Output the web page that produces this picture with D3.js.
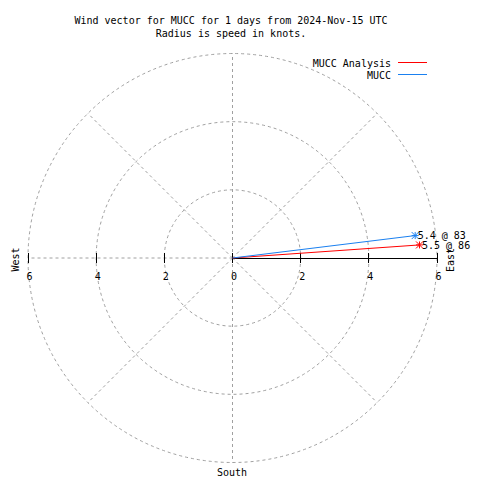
<!DOCTYPE html>
<html><head><meta charset="utf-8">
<script src="https://cdn.jsdelivr.net/npm/d3@7/dist/d3.min.js"></script>
<style>
html,body{margin:0;padding:0;background:#fff;}
text{font-family:"DejaVu Sans Mono",monospace;font-size:10px;fill:#000;}
</style></head>
<body>
<svg id="chart" width="480" height="480"></svg>
<script>
const titleLines = ["Wind vector for MUCC for 1 days from 2024-Nov-15 UTC", "Radius is speed in knots."];
const seriesNames = ["MUCC Analysis", "MUCC"];
const speeds = [5.5, 5.4];       // knots
const directions = [86, 83];     // degrees clockwise from north
const seriesColors = ["#ff0000", "#1a80f0"];
const radiusTicks = [0, 2, 4, 6];
const ringValues = [2, 4, 6];
const spokeAngles = [0, 45, 90, 135, 180, 225, 270, 315];

const svg = d3.select("#chart");
const cx = 232.5, cy = 258;
const r = d3.scaleLinear().domain([0, 6]).range([0, 204.5]);
const g = svg.append("g").attr("transform", `translate(${cx},${cy})`);
const pt = (spd, deg) => {
  const a = deg * Math.PI / 180;
  return [r(spd) * Math.sin(a), -r(spd) * Math.cos(a)];
};

// rings
g.selectAll("circle.ring").data(ringValues).join("circle")
  .attr("r", d => r(d)).attr("fill", "none")
  .attr("stroke", "#a0a0a0").attr("stroke-dasharray", "3,3").attr("stroke-width", 1);

// spokes (skip east, drawn as solid axis)
g.selectAll("line.spoke").data(spokeAngles.filter(a => a !== 90)).join("line")
  .attr("x1", 0).attr("y1", 0)
  .attr("x2", d => pt(6, d)[0]).attr("y2", d => pt(6, d)[1])
  .attr("stroke", "#a0a0a0").attr("stroke-dasharray", "3,3").attr("stroke-width", 1);

// solid axis to east
g.append("line").attr("x1", 0).attr("y1", 0).attr("x2", r(6)).attr("y2", 0)
  .attr("stroke", "#000").attr("stroke-width", 1).attr("shape-rendering", "crispEdges");

// ticks both sides
const tickPos = [];
radiusTicks.forEach(t => { tickPos.push(t); if (t > 0) tickPos.push(-t); });
g.selectAll("line.tick").data(tickPos).join("line")
  .attr("x1", d => d >= 0 ? r(d) : -r(-d)).attr("x2", d => d >= 0 ? r(d) : -r(-d))
  .attr("y1", -5).attr("y2", 5)
  .attr("stroke", "#000").attr("stroke-width", 1).attr("shape-rendering", "crispEdges");
g.selectAll("text.tl").data(tickPos).join("text")
  .attr("x", d => (d >= 0 ? r(d) : -r(-d)) + 1.5).attr("y", 21.5)
  .attr("text-anchor", "middle").text(d => Math.abs(d));

// vectors
seriesNames.forEach((name, i) => {
  const [x, y] = pt(speeds[i], directions[i]);
  g.append("line").attr("x1", 0).attr("y1", 0).attr("x2", x).attr("y2", y)
    .attr("stroke", seriesColors[i]).attr("stroke-width", 1);
  const s = 3.5;
  const star = `M${x - s},${y}L${x + s},${y}M${x},${y - s}L${x},${y + s}M${x - s},${y - s}L${x + s},${y + s}M${x - s},${y + s}L${x + s},${y - s}`;
  g.append("path").attr("d", star).attr("stroke", seriesColors[i]).attr("stroke-width", 1).attr("fill", "none");
  g.append("text").attr("x", x + 2.5).attr("y", y + 3.7)
    .text(`${speeds[i].toFixed(1)} @ ${directions[i]}`);
});

// compass labels
svg.append("text").attr("transform", "translate(18.5,259.5) rotate(-90)").attr("text-anchor", "middle").text("West");
svg.append("text").attr("transform", "translate(454,260) rotate(-90)").attr("text-anchor", "middle").text("East");
svg.append("text").attr("x", 232).attr("y", 475.5).attr("text-anchor", "middle").text("South");

// title
svg.selectAll("text.title").data(titleLines).join("text")
  .attr("x", 231).attr("y", (d, i) => 24 + i * 13).attr("text-anchor", "middle").text(d => d);

// legend
seriesNames.forEach((name, i) => {
  const y = 62.5 + i * 12.3;
  svg.append("text").attr("x", 391).attr("y", y + 4).attr("text-anchor", "end").text(name);
  svg.append("line").attr("x1", 398).attr("x2", 427).attr("y1", y).attr("y2", y)
    .attr("stroke", seriesColors[i]).attr("stroke-width", 1).attr("shape-rendering", "crispEdges");
});
</script>
</body></html>
